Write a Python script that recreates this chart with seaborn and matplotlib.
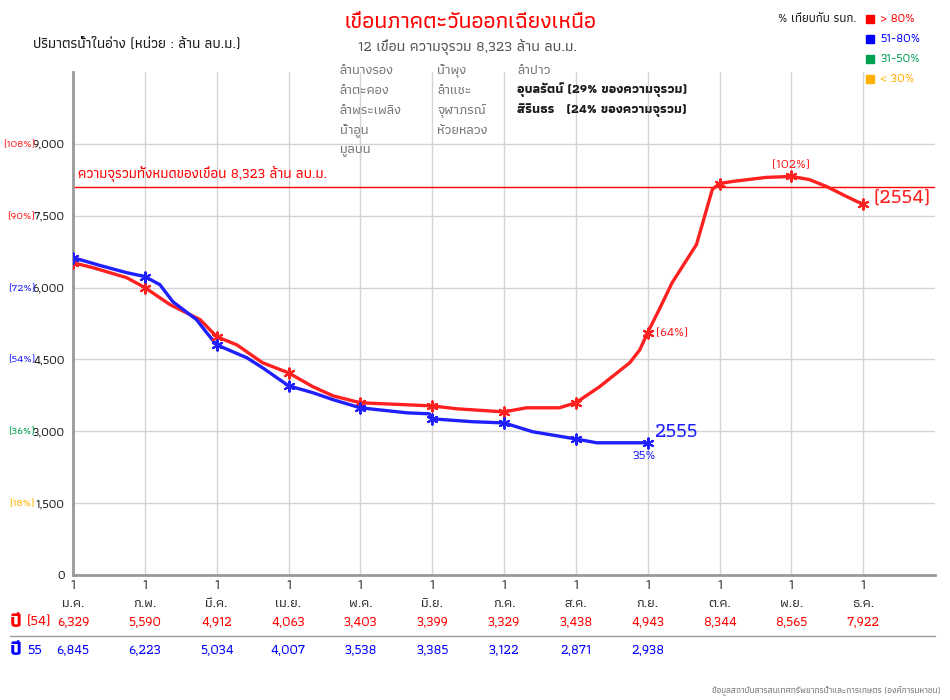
import matplotlib
matplotlib.use("Agg")
import matplotlib.pyplot as plt
import pandas as pd
import seaborn as sns

# ---- data ----
months = ["ม.ค.", "ก.พ.", "มี.ค.", "เม.ย.", "พ.ค.", "มิ.ย.", "ก.ค.", "ส.ค.", "ก.ย.", "ต.ค.", "พ.ย.", "ธ.ค."]

# position in months from 1 Jan, storage (million m3)
x54 = [0.0, 0.28, 0.75, 1.0, 1.35, 1.77, 2.0, 2.28, 2.64, 3.0, 3.34, 3.62, 4.0, 4.31, 5.0, 5.34, 6.0,
       6.31, 6.77, 7.0, 7.33, 7.75, 7.89, 8.0, 8.16, 8.34, 8.68, 8.82, 8.9, 9.0, 9.18, 9.65, 10.0,
       10.25, 10.49, 10.77, 11.0]
y54 = [6520, 6415, 6205, 6000, 5645, 5330, 4975, 4805, 4430, 4220, 3930, 3740, 3595, 3575, 3530, 3470, 3405,
       3490, 3490, 3595, 3930, 4430, 4700, 5060, 5540, 6100, 6900, 7630, 8050, 8170, 8215, 8300, 8320,
       8255, 8110, 7900, 7735]
x55 = [0.0, 0.38, 0.75, 1.0, 1.21, 1.39, 1.72, 1.86, 2.0, 2.42, 2.64, 3.0, 3.34, 3.62, 4.0, 4.65, 4.96,
       5.0, 5.56, 6.0, 6.4, 7.0, 7.29, 8.0]
y55 = [6625, 6460, 6310, 6230, 6060, 5705, 5330, 5060, 4805, 4535, 4325, 3950, 3805, 3660, 3490, 3385, 3365,
       3260, 3200, 3175, 2990, 2840, 2760, 2760]

table54 = ["6,329", "5,590", "4,912", "4,063", "3,403", "3,399", "3,329", "3,438", "4,943", "8,344", "8,565", "7,922"]
table55 = ["6,845", "6,223", "5,034", "4,007", "3,538", "3,385", "3,122", "2,871", "2,938"]

capacity_line = 8100
yticks = [0, 1500, 3000, 4500, 6000, 7500, 9000]
pct_labels = ["", "(18%)", "(36%)", "(54%)", "(72%)", "(90%)", "(108%)"]
pct_colors = ["k", "#ffb000", "#00a050", "#2020ff", "#2020ff", "#ff2020", "#ff2020"]

legend_labels = ["> 80%", "51-80%", "31-50%", "< 30%"]
legend_colors = ["#ff0000", "#0000ff", "#00a050", "#ffb000"]

dams_col1 = ["ลำนางรอง", "ลำตะคอง", "ลำพระเพลิง", "น้ำอูน", "มูลบน"]
dams_col2 = ["น้ำพุง", "ลำแชะ", "จุฬาภรณ์", "ห้วยหลวง"]

RED = "#ff2020"
BLUE = "#2020ff"

sns.set_theme(style="whitegrid")
FONT = ["Athiti", "DejaVu Sans"]
plt.rcParams["font.family"] = FONT
plt.rcParams["font.weight"] = "medium"

df54 = pd.DataFrame({"m": x54, "v": y54})
df55 = pd.DataFrame({"m": x55, "v": y55})

fig = plt.figure(figsize=(9.5, 7), dpi=100)
ax = fig.add_axes([73 / 950, 1 - 575 / 700, (935 - 73) / 950, (575 - 72) / 700])

sns.lineplot(data=df54, x="m", y="v", color=RED, lw=2.4, ax=ax, zorder=3)
sns.lineplot(data=df55, x="m", y="v", color=BLUE, lw=2.4, ax=ax, zorder=4)
star = (6, 2, 0)
sns.scatterplot(data=df54[df54.m % 1 == 0], x="m", y="v", color=RED, marker=star, s=55, linewidth=1.5, ax=ax, zorder=5)
sns.scatterplot(data=df55[df55.m % 1 == 0], x="m", y="v", color=BLUE, marker=star, s=55, linewidth=1.5, ax=ax, zorder=6)

ax.axhline(capacity_line, color="#ff0000", lw=1.0, zorder=2)
ax.text(0.07, capacity_line + 80, "ความจุรวมทั้งหมดของเขื่อน 8,323 ล้าน ลบ.ม.", color="#ff0000", fontsize=10.5, va="bottom")

ax.set_xlim(0, 12)
ax.set_ylim(0, 10500)
ax.set_xticks(range(12))
ax.set_xticklabels([f"1\n{m}" for m in months], fontsize=10, color="#333333", linespacing=1.45)
ax.set_yticks(yticks)
ax.set_yticklabels([f"{v:,}" for v in yticks], fontsize=9, color="k")
ax.tick_params(axis="x", length=0, pad=3)
ax.tick_params(axis="y", length=0, pad=6)
ax.set_xlabel("")
ax.set_ylabel("")
ax.grid(True, color="#d4d4d4", lw=1.0)
for s in ["top", "right"]:
    ax.spines[s].set_visible(False)
for s in ["left", "bottom"]:
    ax.spines[s].set_color("#999999")
    ax.spines[s].set_linewidth(2)

# percentage labels left of the y ticks
for v, lab, c in zip(yticks, pct_labels, pct_colors):
    if lab:
        fig.text(35 / 950, 1 - (575 - v * 430 / 9000) / 700, lab, color=c, fontsize=8, ha="right", va="center")

# point annotations
ax.text(10, 8450, "(102%)", color=RED, fontsize=9.5, ha="center", va="bottom")
ax.text(11.15, 7880, "(2554)", color=RED, fontsize=15, ha="left", va="center")
ax.text(8.12, 5060, "(64%)", color=RED, fontsize=9.5, ha="left", va="center")
ax.text(8.1, 2990, "2555", color=BLUE, fontsize=15, ha="left", va="center")
ax.text(7.95, 2580, "35%", color=BLUE, fontsize=9.5, ha="center", va="top")

# header
fig.text(470 / 950, 1 - 22 / 700, "เขื่อนภาคตะวันออกเฉียงเหนือ", color="#ff0000", fontsize=16.5, ha="center", va="center")
fig.text(468 / 950, 1 - 48 / 700, "12 เขื่อน ความจุรวม 8,323 ล้าน ลบ.ม.", color="#555555", fontsize=11, ha="center", va="center")
fig.text(33 / 950, 1 - 44 / 700, "ปริมาตรน้ำในอ่าง (หน่วย : ล้าน ลบ.ม.)", color="k", fontsize=10.5, ha="left", va="center")

# colour key
fig.text(857 / 950, 1 - 19 / 700, "% เทียบกับ รนก.", color="k", fontsize=9, ha="right", va="center")
for i, (lab, c) in enumerate(zip(legend_labels, legend_colors)):
    yy = 1 - (19 + 20 * i) / 700
    fig.patches.append(plt.Rectangle((866 / 950, yy - 4 / 700), 8 / 950, 8 / 700, color=c, transform=fig.transFigure))
    fig.text(880 / 950, yy, lab, color=c, fontsize=9, ha="left", va="center")

# dam names
for i, d in enumerate(dams_col1):
    fig.text(340 / 950, 1 - (70 + 20 * i) / 700, d, color="#777777", fontsize=10, va="center")
for i, d in enumerate(dams_col2):
    fig.text(437 / 950, 1 - (70 + 20 * i) / 700, d, color="#777777", fontsize=10, va="center")
fig.text(517 / 950, 1 - 70 / 700, "ลำปาว", color="#777777", fontsize=10, va="center")
fig.text(517 / 950, 1 - 90 / 700, "อุบลรัตน์ (29% ของความจุรวม)", color="k", fontsize=9.5, weight="bold", va="center")
fig.text(517 / 950, 1 - 110 / 700, "สิรินธร   (24% ของความจุรวม)", color="k", fontsize=9.5, weight="bold", va="center")

# table under the axis
row1 = -(622 - 575) / (575 - 72)
row2 = -(650 - 575) / (575 - 72)
for i, v in enumerate(table54):
    ax.text(i, row1, v, transform=ax.get_xaxis_transform(), color="#ff0000", fontsize=10, ha="center", va="center")
for i, v in enumerate(table55):
    ax.text(i, row2, v, transform=ax.get_xaxis_transform(), color="#0000ff", fontsize=10, ha="center", va="center")

fig.text(10 / 950, 1 - 622 / 700, "ปี", color="#ff0000", fontsize=14, weight="bold", va="center")
fig.text(27 / 950, 1 - 622 / 700, "(54)", color="#ff0000", fontsize=10.5, va="center")
fig.text(10 / 950, 1 - 650 / 700, "ปี", color="#0000ff", fontsize=14, weight="bold", va="center")
fig.text(27 / 950, 1 - 650 / 700, "55", color="#0000ff", fontsize=10.5, va="center")
fig.lines.append(plt.Line2D([10 / 950, 935 / 950], [1 - 636 / 700] * 2, color="#999999", lw=1, transform=fig.transFigure))

fig.text(940 / 950, 1 - 690 / 700, "ข้อมูลสถาบันสารสนเทศทรัพยากรน้ำและการเกษตร (องค์การมหาชน)", color="#777777", fontsize=6.5, ha="right", va="center")

fig.savefig("out.png", dpi=100)
